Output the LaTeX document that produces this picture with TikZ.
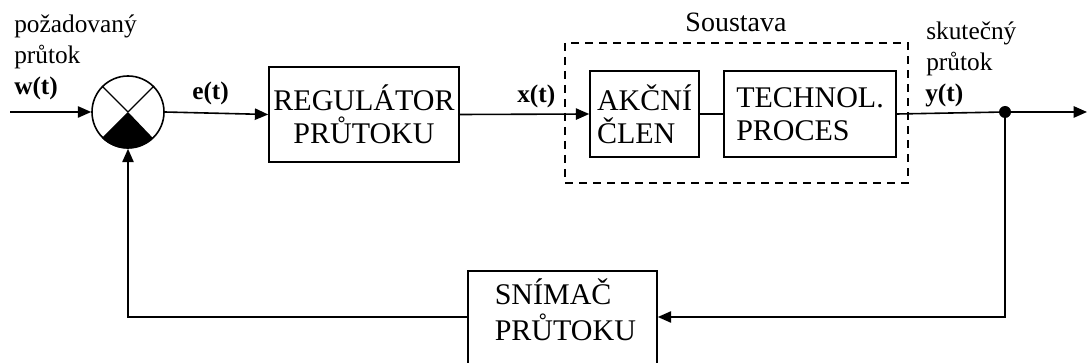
\documentclass[tikz,border=0pt]{standalone}
\usepackage{fontspec}
\setmainfont{Liberation Serif}
\usetikzlibrary{arrows.meta}
\tikzset{
  ln/.style={line width=1.2pt, draw=black},
  arr/.style={ln, -{Triangle[length=10pt,width=8.5pt]}},
  blk/.style={ln, rectangle, inner sep=3pt, font=\fontsize{22.5}{25}\selectfont},
  lbl/.style={inner sep=0pt, font=\fontsize{19}{23}\selectfont},
  blbl/.style={inner sep=0pt, font=\fontsize{19}{23}\selectfont\bfseries},
}
\begin{document}
\begin{tikzpicture}[x=0.75pt, y=-0.75pt]
\useasboundingbox (0,0) rectangle (1088,363);
\clip (0,0) rectangle (1088,363);

% summing junction
\node[ln, circle, minimum size=54pt, inner sep=0pt] (sum) at (128,112) {};
\fill (sum.center) -- (sum.225) arc[start angle=225, end angle=315, radius=27pt] -- cycle;
\draw[ln, line width=0.9pt] (sum.center) -- (sum.135);
\draw[ln, line width=0.9pt] (sum.center) -- (sum.45);

% blocks
\node[blk, draw, minimum width=142.5pt, minimum height=71.25pt, align=center] (reg) at (364,114.5) {REGULÁTOR\\PRŮTOKU};
\node[ln, draw, dashed, dash pattern=on 6pt off 4.5pt, minimum width=257.25pt, minimum height=105pt, inner sep=0pt] (sys) at (736.5,113) {};
\node[blk, draw, minimum width=81.75pt, minimum height=64.5pt, align=left] (akc) at (644.5,114) {AKČNÍ\\ČLEN};
\node[blk, draw, minimum width=129pt, minimum height=64.5pt, align=left] (tech) at (810,114) {TECHNOL.\\PROCES};
\node[blk, draw, minimum width=141.75pt, minimum height=81.75pt] (snim) at (562.5,325.5) {};
\node[blk, draw=none, align=left, anchor=base west, font=\fontsize{22.5}{27}\selectfont] (snimt) at (490,340) {SNÍMAČ\\PRŮTOKU};

% labels
\node[lbl, anchor=base, font=\fontsize{21}{23}\selectfont] (sous) at (736,32) {Soustava};
\node[lbl, anchor=base west] (poz1) at (14,33) {požadovaný};
\node[lbl, anchor=base west] (poz2) at (14,64) {průtok};
\node[blbl, anchor=base west] (w) at (14,95) {w(t)};
\node[blbl, anchor=base west] (e) at (192,100) {e(t)};
\node[blbl, anchor=base west] (x) at (517,103) {x(t)};
\node[lbl, anchor=base west] (sk1) at (926,40) {skutečný};
\node[lbl, anchor=base west] (sk2) at (926,71) {průtok};
\node[blbl, anchor=base west] (y) at (925,102) {y(t)};

% connectors
\coordinate (win) at (10,112);
\coordinate (wout) at (1087,112);
\coordinate (fbR) at (1005,317);
\node[circle, fill=black, inner sep=0pt, minimum size=9pt] (dot) at (1005,112) {};

\draw[arr] (win) -- (sum.west);
\draw[arr] (sum.east) -- (reg.west);
\draw[arr] (reg.east) -- (akc.west);
\draw[ln] (akc.east) -- (tech.west);
\draw[ln] (tech.east) -- (dot.center);
\draw[arr] (dot.center) -- (wout);
\draw[arr] (dot.center) -- (fbR) -- (snim.east |- fbR);
\draw[arr] (snim.west |- fbR) -| (sum.south);
\end{tikzpicture}
\end{document}
